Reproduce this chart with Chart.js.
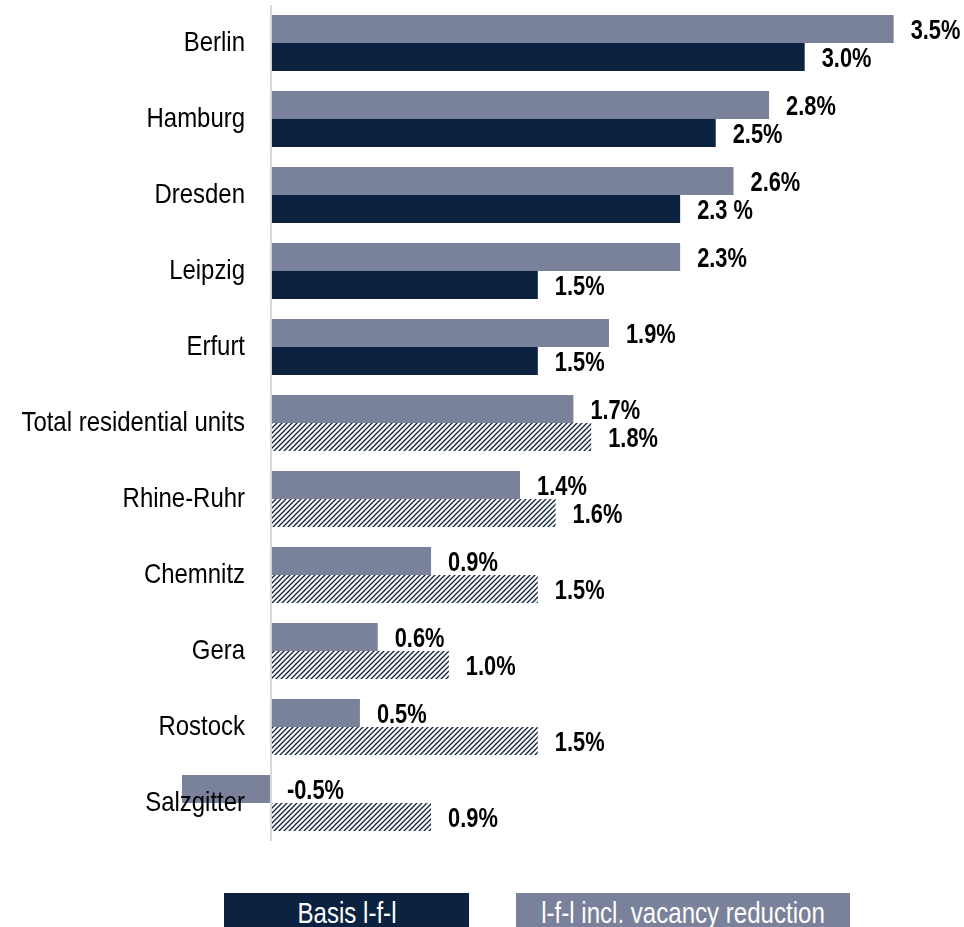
<!DOCTYPE html>
<html>
<head>
<meta charset="utf-8">
<script src="https://cdn.jsdelivr.net/npm/chart.js@4"></script>
<style>
  html, body { margin: 0; padding: 0; background: #fff; }
  #wrap { position: relative; width: 964px; height: 927px; overflow: hidden; }
  #myChart { position: absolute; left: 0; top: 0; }
  .leg { position: absolute; top: 893px; height: 40px; overflow: hidden; }
  .leg span { position: absolute; left: 50%; top: 0; white-space: nowrap; color: #fff;
              font-family: 'Liberation Sans', Arial, sans-serif; font-size: 29px; line-height: 40px;
              transform: translateX(-50%) scaleX(0.83); }
</style>
</head>
<body>
<div id="wrap">
  <canvas id="myChart" width="964" height="927"></canvas>
  <div class="leg" id="leg0" style="left:224px; width:245px;"><span></span></div>
  <div class="leg" id="leg1" style="left:516px; width:334px;"><span></span></div>
</div>
<script>
var cities = ['Berlin', 'Hamburg', 'Dresden', 'Leipzig', 'Erfurt', 'Total residential units',
              'Rhine-Ruhr', 'Chemnitz', 'Gera', 'Rostock', 'Salzgitter'];

// l-f-l incl. vacancy reduction (top bar of each pair)
var vacancyValues = [3.5, 2.8, 2.6, 2.3, 1.9, 1.7, 1.4, 0.9, 0.6, 0.5, -0.5];
// Basis l-f-l (bottom bar of each pair)
var basisValues = [3.0, 2.5, 2.3, 1.5, 1.5, 1.8, 1.6, 1.5, 1.0, 1.5, 0.9];
// which basis bars are drawn hatched
var basisHatched = [false, false, false, false, false, true, true, true, true, true, true];

var seriesNames = ['l-f-l incl. vacancy reduction', 'Basis l-f-l'];

var GREY = '#79829a';
var NAVY = '#0b2341';
var FONT = "'Liberation Sans', Arial, sans-serif";

function hatch() {
  var c = document.createElement('canvas');
  c.width = 5; c.height = 5;
  var g = c.getContext('2d');
  g.fillStyle = '#fff';
  g.fillRect(0, 0, 5, 5);
  g.strokeStyle = NAVY;
  g.lineWidth = 1.3;
  g.beginPath();
  g.moveTo(-1, 6); g.lineTo(6, -1);
  g.moveTo(-1, 1); g.lineTo(1, -1);
  g.moveTo(4, 6); g.lineTo(6, 4);
  g.stroke();
  return g.createPattern(c, 'repeat');
}
var pattern = hatch();
var basisColors = basisHatched.map(function (h) { return h ? pattern : NAVY; });

// label text, Dresden basis value is written with a space in the source
function fmt(v, ds, i) {
  var s = v.toFixed(1);
  if (ds == 1 && i == 2) return s + ' %';
  return s + '%';
}

// condensed text (the source uses a narrow face)
function narrowText(ctx, text, x, y, sx) {
  ctx.save();
  ctx.translate(x, y);
  ctx.scale(sx, 1);
  ctx.fillText(text, 0, 0);
  ctx.restore();
}

var labelsPlugin = {
  id: 'labelsPlugin',
  afterDatasetsDraw: function (chart) {
    var ctx = chart.ctx;
    var yScale = chart.scales.y;
    ctx.save();
    ctx.fillStyle = '#000';
    ctx.textBaseline = 'middle';

    // category names, right aligned left of the zero line
    ctx.font = '28px ' + FONT;
    ctx.textAlign = 'right';
    chart.data.labels.forEach(function (lab, i) {
      narrowText(ctx, lab, 245, yScale.getPixelForValue(i), 0.855);
    });

    // value labels
    ctx.font = 'bold 28px ' + FONT;
    ctx.textAlign = 'left';
    chart.data.datasets.forEach(function (ds, d) {
      chart.getDatasetMeta(d).data.forEach(function (el, i) {
        var x = Math.max(el.x, el.base) + 17;
        narrowText(ctx, fmt(ds.data[i], d, i), x, el.y + 2, 0.78);
      });
    });
    ctx.restore();
  }
};

var l0 = document.getElementById('leg0');
l0.style.background = NAVY;
l0.firstChild.textContent = seriesNames[1];
var l1 = document.getElementById('leg1');
l1.style.background = GREY;
l1.firstChild.textContent = seriesNames[0];

new Chart('myChart', {
  type: 'bar',
  data: {
    labels: cities,
    datasets: [{
      label: seriesNames[0],
      data: vacancyValues,
      backgroundColor: GREY,
      borderWidth: 0
    }, {
      label: seriesNames[1],
      data: basisValues,
      backgroundColor: basisColors,
      borderWidth: 0
    }]
  },
  options: {
    indexAxis: 'y',
    responsive: false,
    animation: false,
    barPercentage: 1.0,
    categoryPercentage: 0.737,
    layout: { padding: { top: 5, bottom: 86, left: 182, right: 17 } },
    plugins: { legend: { display: false }, tooltip: { enabled: false } },
    scales: {
      x: {
        min: -0.5,
        max: 3.8,
        ticks: { display: false, stepSize: 0.5 },
        border: { display: false },
        grid: {
          drawTicks: false,
          lineWidth: 2,
          color: function (c) { return c.tick && c.tick.value === 0 ? '#d9d9d9' : 'rgba(0,0,0,0)'; }
        }
      },
      y: {
        display: false
      }
    }
  },
  plugins: [labelsPlugin]
});
</script>
</body>
</html>
